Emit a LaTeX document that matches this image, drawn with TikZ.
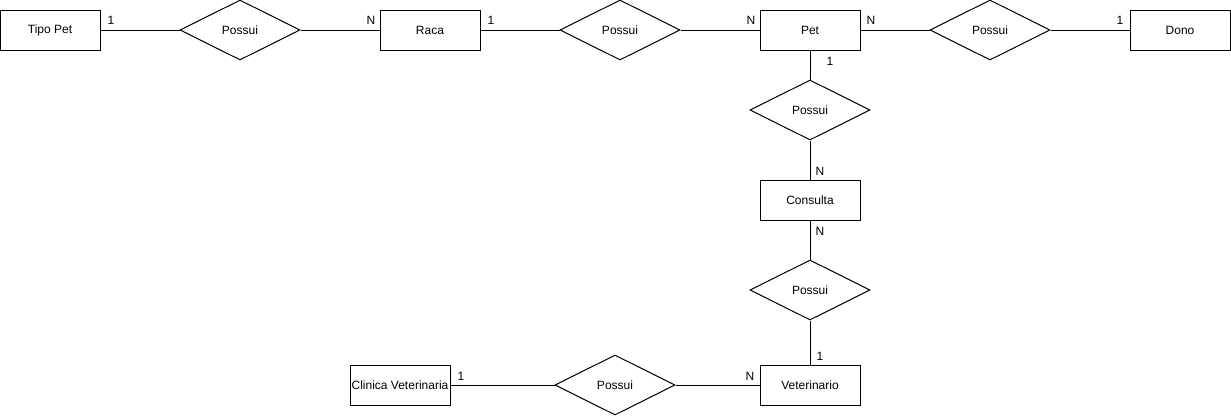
\documentclass[tikz,border=0pt]{standalone}
\usepackage{fontspec}
\setmainfont{Liberation Sans}
\usetikzlibrary{shapes.geometric}
\begin{document}
\begin{tikzpicture}[x=1pt,y=-1pt,
  every node/.style={font=\fontsize{12}{14}\selectfont},
  entity/.style={draw,line width=1pt,minimum width=100pt,minimum height=40pt,inner sep=0pt},
  rel/.style={draw,line width=1pt,diamond,shape aspect=2,minimum width=120pt,minimum height=60pt,inner sep=0pt},
  link/.style={line width=1pt},
  card/.style={inner sep=0pt}]
\useasboundingbox (0,0) rectangle (1231,416);
\fill[white] (0,0) rectangle (1231,416);
% entities
\node[entity] (tipo) at (50,30) {Tipo Pet};
\node[entity] (raca) at (430,30) {Raca};
\node[entity] (pet) at (810,30) {Pet};
\node[entity] (dono) at (1180,30) {Dono};
\node[entity] (consulta) at (810,200) {Consulta};
\node[entity] (vet) at (810,385) {Veterinario};
\node[entity] (clinica) at (400,385) {Clinica Veterinaria};
% relationships
\node[rel] (r1) at (240,30) {Possui};
\node[rel] (r2) at (620,30) {Possui};
\node[rel] (r3) at (990,30) {Possui};
\node[rel] (r4) at (810,110) {Possui};
\node[rel] (r5) at (810,290) {Possui};
\node[rel] (r6) at (615,385) {Possui};
% connectors
\draw[link] (tipo.east) -- (r1.west);
\draw[link] (r1.east) -- (raca.west);
\draw[link] (raca.east) -- (r2.west);
\draw[link] (r2.east) -- (pet.west);
\draw[link] (pet.east) -- (r3.west);
\draw[link] (r3.east) -- (dono.west);
\draw[link] (pet.south) -- (r4.north);
\draw[link] (r4.south) -- (consulta.north);
\draw[link] (consulta.south) -- (r5.north);
\draw[link] (r5.south) -- (vet.north);
\draw[link] (clinica.east) -- (r6.west);
\draw[link] (r6.east) -- (vet.west);
% cardinalities
\node[card] (c1) at (111,20) {1};
\node[card] (c2) at (371,20) {N};
\node[card] (c3) at (491,20) {1};
\node[card] (c4) at (751,20) {N};
\node[card] (c5) at (871,20) {N};
\node[card] (c6) at (1120,20) {1};
\node[card] (c7) at (830,61) {1};
\node[card] (c8) at (820,171) {N};
\node[card] (c9) at (820,231) {N};
\node[card] (c10) at (820,356) {1};
\node[card] (c11) at (461,376) {1};
\node[card] (c12) at (750,376) {N};
\end{tikzpicture}
\end{document}
